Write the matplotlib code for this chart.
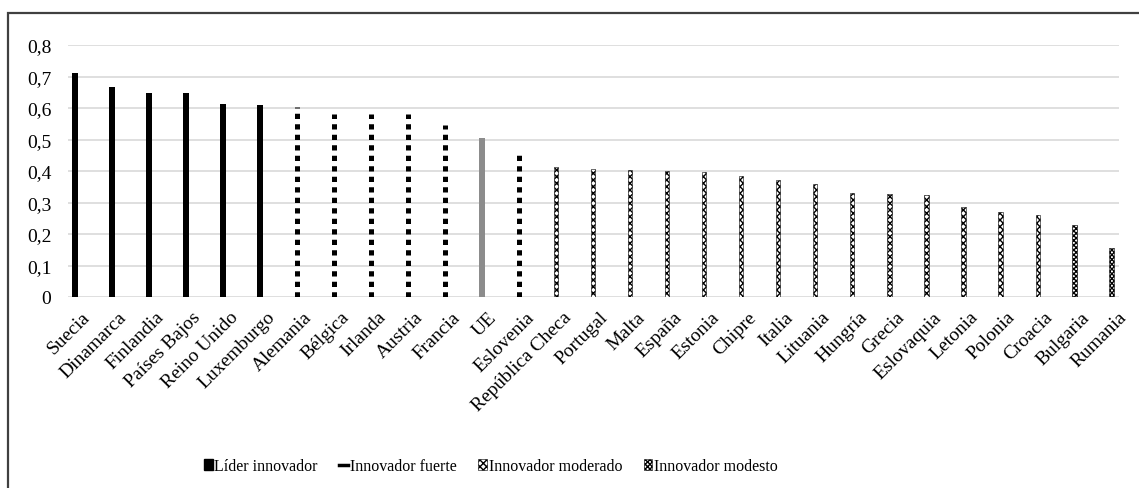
import numpy as np
import matplotlib
matplotlib.use('Agg')
import matplotlib.pyplot as plt
from matplotlib.patches import Patch, Rectangle
from matplotlib.lines import Line2D
import matplotlib.transforms as mtransforms

plt.rcParams['font.family'] = ['Liberation Serif', 'DejaVu Serif']
plt.rcParams['hatch.linewidth'] = 1.0

# data
paises = ['Suecia', 'Dinamarca', 'Finlandia', 'Países Bajos', 'Reino Unido', 'Luxemburgo',
          'Alemania', 'Bélgica', 'Irlanda', 'Austria', 'Francia', 'UE', 'Eslovenia',
          'República Checa', 'Portugal', 'Malta', 'España', 'Estonia', 'Chipre', 'Italia',
          'Lituania', 'Hungría', 'Grecia', 'Eslovaquia', 'Letonia', 'Polonia', 'Croacia',
          'Bulgaria', 'Rumania']
valores = [0.710, 0.668, 0.648, 0.648, 0.612, 0.610,
           0.602, 0.580, 0.580, 0.580, 0.547, 0.505, 0.466,
           0.414, 0.405, 0.402, 0.400, 0.396, 0.385, 0.372,
           0.360, 0.331, 0.328, 0.325, 0.286, 0.271, 0.259,
           0.229, 0.156]
grupo = ['lider'] * 6 + ['fuerte'] * 5 + ['ue'] + ['fuerte'] + ['moderado'] * 14 + ['modesto'] * 2

leyenda = ['Líder innovador', 'Innovador fuerte', 'Innovador moderado', 'Innovador modesto']

x = np.arange(len(paises))
v = np.array(valores)
g = np.array(grupo)

fig = plt.figure(figsize=(11.39, 4.89), dpi=100)
ax = fig.add_axes([68 / 1139, 1 - 298 / 489, (1119 - 68) / 1139, (298 - 46) / 489])

# marco exterior
fig.patches.append(Rectangle((8 / 1139, -0.1), 1.2, 1 - 14 / 489 + 0.1, transform=fig.transFigure,
                             fill=False, edgecolor='#404040', linewidth=1.6, zorder=0))

m = g == 'lider'
ax.bar(x[m], v[m], width=0.15, color='black', zorder=3)
m = g == 'ue'
ax.bar(x[m], v[m], width=0.16, color='#8c8c8c', zorder=3)
m = g == 'fuerte'
ax.vlines(x[m], 0, v[m], colors='black', linewidth=3.6, linestyles=(0, (1.05, 1.05)), zorder=3)
m = g == 'moderado'
ax.bar(x[m], v[m], width=0.11, color='white', edgecolor='black', linewidth=0.4,
       hatch='xxxxx', zorder=3)
m = g == 'modesto'
ax.bar(x[m], v[m], width=0.14, color='white', edgecolor='black', linewidth=0.4,
       hatch='XXXXXXX', zorder=3)

ax.set_xlim(-0.19, 28.2)
ax.set_ylim(0, 0.8)
ax.set_yticks(np.arange(0, 0.81, 0.1))
ax.set_yticklabels(['0'] + [('%.1f' % t).replace('.', ',') for t in np.arange(0.1, 0.81, 0.1)])
ax.grid(axis='y', color='#d9d9d9', linewidth=1.2, zorder=0)
ax.set_axisbelow(True)
for s in ax.spines.values():
    s.set_visible(False)
ax.tick_params(axis='y', length=0, pad=12, labelsize=14)
ax.tick_params(axis='x', length=0, pad=8, labelsize=14)
ax.set_xticks(x)
ax.set_xticklabels(paises, rotation=45, ha='right', rotation_mode='anchor')
off = mtransforms.ScaledTranslation(6 / 100, 0, fig.dpi_scale_trans)
for lab in ax.get_xticklabels():
    lab.set_transform(lab.get_transform() + off)

handles = [Patch(facecolor='black', edgecolor='black'),
           Line2D([], [], color='black', linewidth=2.5),
           Patch(facecolor='white', edgecolor='black', hatch='xxxxx', linewidth=0.4),
           Patch(facecolor='white', edgecolor='black', hatch='XXXXXXX', linewidth=0.4)]
fig.legend(handles, leyenda, loc='center left', bbox_to_anchor=(204 / 1139, 1 - 467 / 489),
           ncol=4, frameon=False, fontsize=11.5, handlelength=0.55, handleheight=0.65,
           handletextpad=0.1, columnspacing=1.35, borderaxespad=0, borderpad=0)

fig.savefig('out.png', dpi=100)
